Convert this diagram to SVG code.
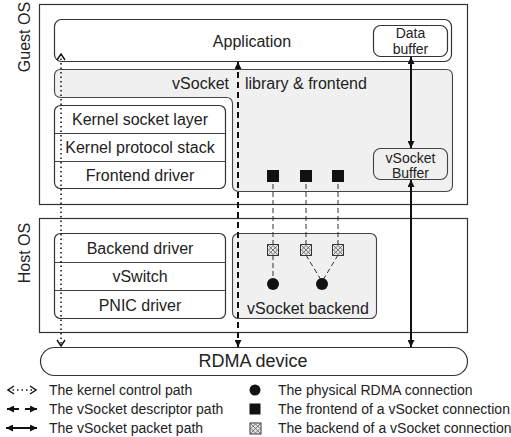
<svg xmlns="http://www.w3.org/2000/svg" width="511" height="437" viewBox="0 0 511 437">
<style>
text{font-family:"Liberation Sans",Arial,sans-serif;fill:#222}
.lbl{font-size:16px;text-anchor:middle}
.sm{font-size:14px;text-anchor:middle}
.lg{font-size:14px}
.box{fill:#fff;stroke:#333;stroke-width:1.2}
.gray{fill:#f0f0f0;stroke:#444;stroke-width:1.1}
.div{stroke:#444;stroke-width:1}
.dash1{stroke:#333;stroke-width:1;stroke-dasharray:5,3;fill:none}
.desc{stroke:#111;stroke-width:2;stroke-dasharray:6,4;fill:none}
.dot{stroke:#111;stroke-width:1.5;stroke-dasharray:1.5,3;fill:none}
.pkt{stroke:#111;stroke-width:2;fill:none}
</style>
<defs>
<marker id="tri" viewBox="0 0 8 8" refX="8" refY="4" markerWidth="8" markerHeight="7" markerUnits="userSpaceOnUse" orient="auto-start-reverse">
<path d="M0,0 L8,4 L0,8 z" fill="#111"/>
</marker>
<marker id="chev" viewBox="0 0 8 10" refX="7" refY="5" markerWidth="8" markerHeight="10" markerUnits="userSpaceOnUse" orient="auto-start-reverse">
<path d="M1,1 L7,5 L1,9" fill="none" stroke="#111" stroke-width="1.4"/>
</marker>
<g id="xsq">
<rect x="0" y="0" width="11" height="11" fill="#e8e8e8" stroke="#333" stroke-width="1"/>
<path d="M0,0 L11,11 M11,0 L0,11 M5.5,1 L10,5.5 L5.5,10 L1,5.5 Z" fill="none" stroke="#555" stroke-width="0.8"/>
</g>
</defs>

<g id="guest-os">
<rect class="box" x="39.5" y="4.5" width="428" height="200"/>
<text class="lbl" transform="translate(30,37) rotate(-90)">Guest OS</text>
</g>
<g id="host-os">
<rect class="box" x="39.5" y="218.5" width="428" height="114"/>
<text class="lbl" transform="translate(30,253) rotate(-90)">Host OS</text>
</g>

<g id="application">
<rect class="box" x="54.5" y="19.5" width="397" height="42" rx="7"/>
<text class="lbl" x="252" y="47">Application</text>
</g>
<g id="data-buffer">
<rect class="box" x="373.5" y="25.5" width="74" height="31" rx="7"/>
<text class="sm" x="410.5" y="38">Data</text>
<text class="sm" x="410.5" y="54">buffer</text>
</g>

<g id="vsocket-library">
<path class="gray" d="M61,69.5 H446 Q452.5,69.5 452.5,76 V185 Q452.5,191.5 446,191.5 H239 Q232.5,191.5 232.5,185 V104 Q232.5,97.5 226,97.5 H61 Q54.5,97.5 54.5,91 V76 Q54.5,69.5 61,69.5 Z"/>
<text class="lbl" y="89"><tspan x="229" text-anchor="end">vSocket</tspan><tspan x="245" text-anchor="start">library &amp; frontend</tspan></text>
</g>
<g id="vsocket-buffer">
<rect class="gray" x="373.5" y="148.5" width="74" height="31" rx="7"/>
<text class="sm" x="410.5" y="163">vSocket</text>
<text class="sm" x="410.5" y="178">Buffer</text>
</g>

<g id="kernel-stack">
<rect class="box" x="54.5" y="105.5" width="171" height="83" rx="6"/>
<line class="div" x1="54.5" y1="133.5" x2="225.5" y2="133.5"/>
<line class="div" x1="54.5" y1="161.5" x2="225.5" y2="161.5"/>
<text class="lbl" x="140" y="125">Kernel socket layer</text>
<text class="lbl" x="140" y="153">Kernel protocol stack</text>
<text class="lbl" x="140" y="181">Frontend driver</text>
</g>

<g id="host-stack">
<rect class="box" x="54.5" y="233.5" width="171" height="85" rx="6"/>
<line class="div" x1="54.5" y1="262.5" x2="225.5" y2="262.5"/>
<line class="div" x1="54.5" y1="290.5" x2="225.5" y2="290.5"/>
<text class="lbl" x="140" y="254">Backend driver</text>
<text class="lbl" x="140" y="282">vSwitch</text>
<text class="lbl" x="140" y="311">PNIC driver</text>
</g>

<g id="vsocket-backend">
<rect class="gray" x="232.5" y="233.5" width="144" height="85" rx="6"/>
<text class="lbl" x="308" y="314">vSocket backend</text>
</g>

<g id="rdma-device">
<rect class="box" x="40.5" y="347.5" width="427" height="28" rx="14"/>
<text x="253" y="367" style="font-size:18px;text-anchor:middle">RDMA device</text>
</g>

<g id="connectors">
<line class="dash1" x1="273" y1="176" x2="273" y2="244"/>
<line class="dash1" x1="306" y1="176" x2="306" y2="244"/>
<line class="dash1" x1="338" y1="176" x2="338" y2="244"/>
<line class="dash1" x1="273" y1="255" x2="273" y2="280"/>
<line class="dash1" x1="306" y1="255" x2="321" y2="280"/>
<line class="dash1" x1="338" y1="255" x2="323" y2="280"/>
<line class="dot" x1="61" y1="54" x2="61" y2="346" marker-start="url(#chev)" marker-end="url(#chev)"/>
<line class="desc" x1="238" y1="62" x2="238" y2="347" marker-start="url(#tri)" marker-end="url(#tri)"/>
<line class="pkt" x1="411" y1="57" x2="411" y2="148" marker-start="url(#tri)" marker-end="url(#tri)"/>
<line class="pkt" x1="411" y1="180" x2="411" y2="347" marker-start="url(#tri)" marker-end="url(#tri)"/>
</g>

<g id="connections">
<rect x="267" y="170" width="12" height="12" fill="#111"/>
<rect x="300" y="170" width="12" height="12" fill="#111"/>
<rect x="332" y="170" width="12" height="12" fill="#111"/>
<use href="#xsq" x="267.5" y="244.5"/>
<use href="#xsq" x="300.5" y="244.5"/>
<use href="#xsq" x="332.5" y="244.5"/>
<circle cx="273" cy="284" r="6" fill="#111"/>
<circle cx="322" cy="284" r="6" fill="#111"/>
</g>

<g id="legend">
<line class="dot" x1="8" y1="390" x2="36" y2="390" marker-start="url(#chev)" marker-end="url(#chev)"/>
<line x1="7" y1="409" x2="19" y2="409" stroke="#111" stroke-width="2" marker-start="url(#tri)"/>
<line x1="25" y1="409" x2="37" y2="409" stroke="#111" stroke-width="2" marker-end="url(#tri)"/>
<line class="pkt" x1="6" y1="428" x2="37" y2="428" marker-start="url(#tri)" marker-end="url(#tri)"/>
<text class="lg" x="49" y="395">The kernel control path</text>
<text class="lg" x="49" y="414">The vSocket descriptor path</text>
<text class="lg" x="49" y="433">The vSocket packet path</text>
<circle cx="255" cy="390" r="5.5" fill="#111"/>
<rect x="249.5" y="403.5" width="11" height="11" fill="#111"/>
<use href="#xsq" x="250" y="423"/>
<text class="lg" x="278" y="395">The physical RDMA connection</text>
<text class="lg" x="278" y="414">The frontend of a vSocket connection</text>
<text class="lg" x="278" y="433">The backend of a vSocket connection</text>
</g>
</svg>
